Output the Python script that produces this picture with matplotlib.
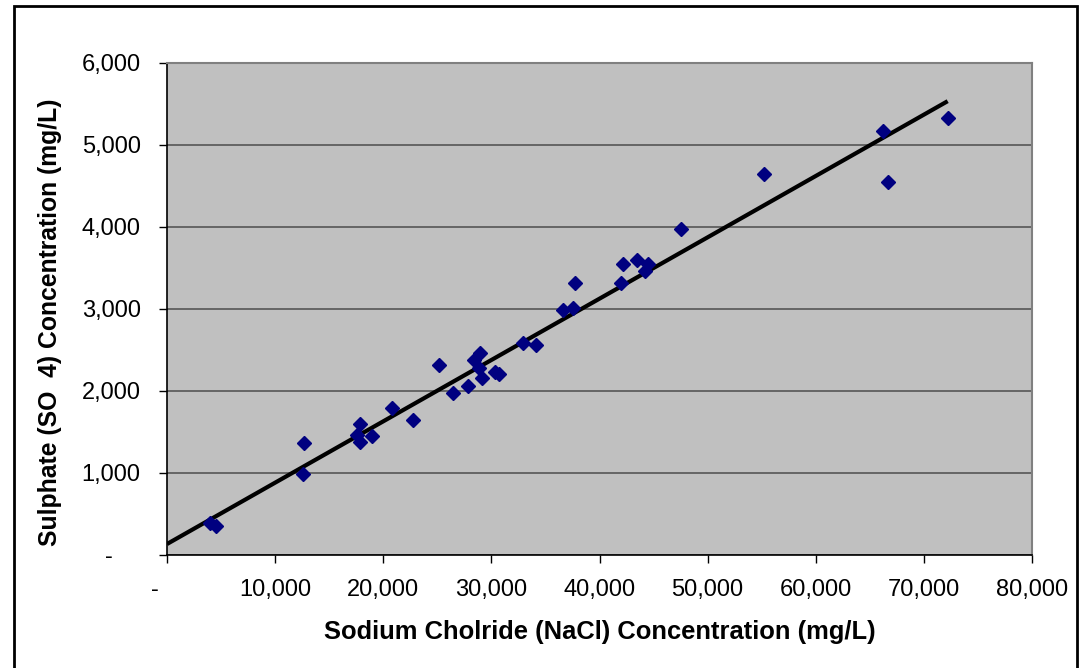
import matplotlib
matplotlib.use("Agg")
import matplotlib.pyplot as plt
import matplotlib.transforms as mtransforms
from matplotlib.patches import Rectangle
from matplotlib.ticker import FuncFormatter
import numpy as np

plt.rcParams['font.family'] = ['Liberation Sans', 'DejaVu Sans']

# Data
nacl = [3980, 4530, 12550, 12700, 17850, 17850, 17600, 18960, 20780, 22720,
        25190, 26480, 27870, 28430, 28950, 28850, 29160, 30340, 30740,
        32960, 34150, 36600, 37520, 37740, 41960, 42200, 43430, 44200, 44520,
        47540, 55210, 66250, 66660, 72200]
so4 = [390, 354, 984, 1362, 1598, 1382, 1460, 1455, 1789, 1646,
       2317, 1972, 2065, 2378, 2467, 2277, 2163, 2236, 2204,
       2581, 2557, 2988, 3008, 3313, 3313, 3549, 3598, 3467, 3549,
       3972, 4646, 5175, 4552, 5333]

# Linear trend line
trend_intercept = 134
trend_slope = 0.0748

x_ticks = [0, 10000, 20000, 30000, 40000, 50000, 60000, 70000, 80000]
y_ticks = [0, 1000, 2000, 3000, 4000, 5000, 6000]

fig = plt.figure(figsize=(10.85, 6.68), dpi=100)
ax = fig.add_axes([167/1085, 1 - 555/668, (1032-167)/1085, (555-63)/668])

# Outer chart border
fig.patches.append(Rectangle((14/1085, -0.05), (1077-14)/1085, 1 - 6/668 + 0.05,
                             transform=fig.transFigure, fill=False,
                             edgecolor='black', linewidth=2.0, zorder=0))

ax.set_facecolor('#C0C0C0')
ax.set_xlim(0, 80000)
ax.set_ylim(0, 6000)
ax.set_xticks(x_ticks)
ax.set_yticks(y_ticks)

fmt = FuncFormatter(lambda v, p: '-' if v == 0 else f'{int(v):,}')
ax.xaxis.set_major_formatter(fmt)
ax.yaxis.set_major_formatter(fmt)

ax.yaxis.grid(True, color='#4d4d4d', linewidth=1.1)
ax.set_axisbelow(True)

for s in ['top', 'right']:
    ax.spines[s].set_color('#808080')
    ax.spines[s].set_linewidth(1.5)
for s in ['left', 'bottom']:
    ax.spines[s].set_color('black')
    ax.spines[s].set_linewidth(1.2)

ax.tick_params(axis='both', direction='out', length=6, width=1.0,
               labelsize=17, colors='black')
ax.tick_params(axis='y', pad=13)
ax.tick_params(axis='x', pad=11)

xt = np.array([0, max(nacl)])
ax.plot(xt, trend_intercept + trend_slope * xt, color='black', linewidth=3.0, zorder=3,
        solid_capstyle='butt')
ax.plot(nacl, so4, linestyle='none', marker='D', markersize=7.5,
        color='#000080', markeredgecolor='#000080', zorder=4, clip_on=False)

ax.set_xlabel('Sodium Cholride (NaCl) Concentration (mg/L)', fontsize=18.4,
              fontweight='bold', labelpad=14)
ax.set_ylabel('Sulphate (SO  4) Concentration (mg/L)', fontsize=17.8,
              fontweight='bold')
ax.yaxis.set_label_coords((62 - 167) / 865, (555 - 322) / 492)

fig.canvas.draw()
xl0 = ax.get_xticklabels()[0]
xl0.set_transform(xl0.get_transform() + mtransforms.ScaledTranslation(-12/100, 0, fig.dpi_scale_trans))
yl0 = ax.get_yticklabels()[0]
yl0.set_transform(yl0.get_transform() + mtransforms.ScaledTranslation(-28/100, 0, fig.dpi_scale_trans))

fig.savefig('out.png', dpi=100)
